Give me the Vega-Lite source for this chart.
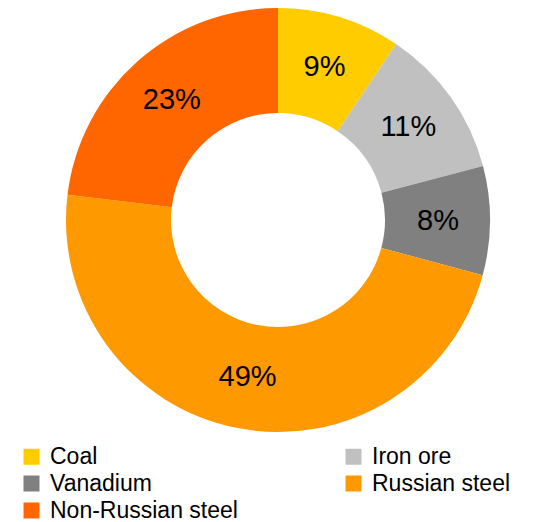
{
  "$schema": "https://vega.github.io/schema/vega-lite/v6.json",
  "width": 520,
  "height": 440,
  "autosize": {"type": "none"},
  "padding": {"left": 18, "top": 0, "right": 4, "bottom": 82},
  "background": "white",
  "data": {
    "values": [
      {"category": "Coal", "value": 9.4, "label": "9%", "order": 1},
      {"category": "Iron ore", "value": 11.5, "label": "11%", "order": 2},
      {"category": "Vanadium", "value": 8.3, "label": "8%", "order": 3},
      {"category": "Russian steel", "value": 47.7, "label": "49%", "order": 4},
      {"category": "Non-Russian steel", "value": 23.1, "label": "23%", "order": 5}
    ]
  },
  "encoding": {
    "theta": {"field": "value", "type": "quantitative", "stack": true},
    "order": {"field": "order", "type": "quantitative"}
  },
  "layer": [
    {
      "mark": {"type": "arc", "innerRadius": 107, "outerRadius": 212, "strokeWidth": 0},
      "encoding": {
        "color": {
          "field": "category",
          "type": "nominal",
          "scale": {
            "domain": ["Coal", "Vanadium", "Non-Russian steel", "Iron ore", "Russian steel"],
            "range": ["#FFCC00", "#808080", "#FF6600", "#C0C0C0", "#FF9900"]
          },
          "legend": {
            "orient": "none",
            "legendX": 2,
            "legendY": 445,
            "columns": 2,
            "columnPadding": 104,
            "rowPadding": 3,
            "symbolType": "square",
            "symbolSize": 256,
            "symbolStrokeWidth": 0,
            "labelFontSize": 23,
            "labelFont": "Liberation Sans",
            "labelColor": "black",
            "labelOffset": 7,
            "labelLimit": 400,
            "title": null
          }
        }
      }
    },
    {
      "mark": {"type": "text", "radius": 160, "fontSize": 29, "font": "Liberation Sans", "color": "black"},
      "encoding": {"text": {"field": "label"}}
    }
  ]
}
